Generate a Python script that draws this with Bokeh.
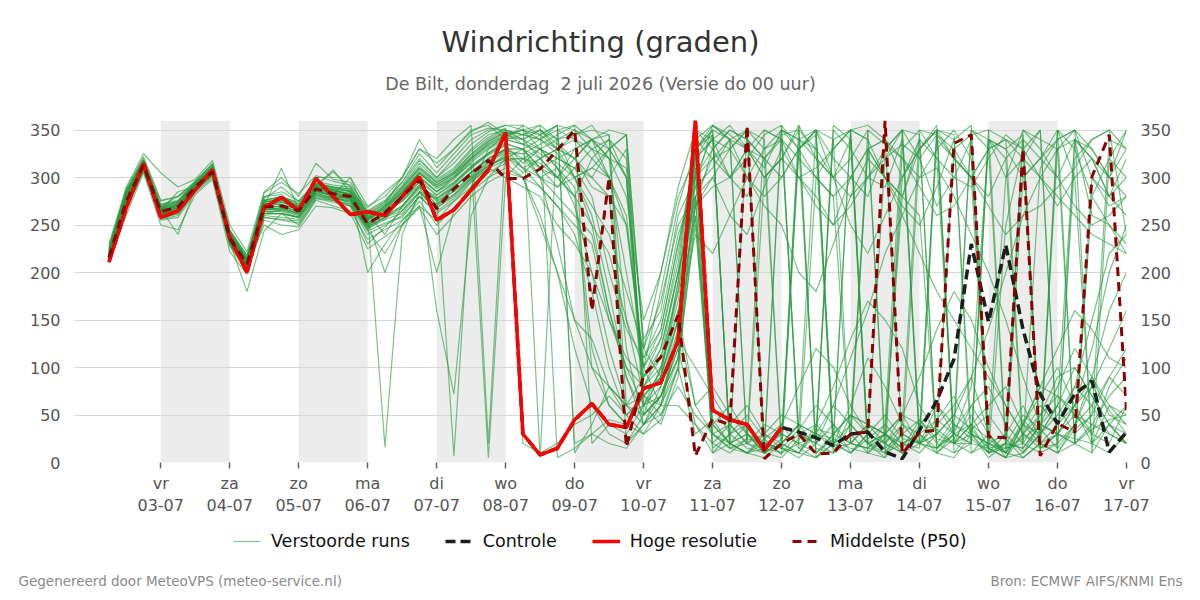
from datetime import datetime, timedelta

from bokeh.plotting import figure
from bokeh.layouts import column
from bokeh.models import (BoxAnnotation, FixedTicker, Label, Legend, LegendItem,
                          LinearAxis, Range1d)
from bokeh.embed import file_html
from bokeh.resources import INLINE

# ---------------------------------------------------------------- data
run_start = datetime(2026, 7, 2, 6)      # first forecast step
step_hours = 6
view_start = datetime(2026, 7, 1, 18)
view_end = datetime(2026, 7, 17, 0)

day_ticks = [datetime(2026, 7, d) for d in range(3, 18)]
day_labels = ["vr\n03-07", "za\n04-07", "zo\n05-07", "ma\n06-07", "di\n07-07",
              "wo\n08-07", "do\n09-07", "vr\n10-07", "za\n11-07", "zo\n12-07",
              "ma\n13-07", "di\n14-07", "wo\n15-07", "do\n16-07", "vr\n17-07"]
shaded_days = [datetime(2026, 7, d) for d in (3, 5, 7, 9, 11, 13, 15)]
y_ticks = [0, 50, 100, 150, 200, 250, 300, 350]

# high resolution run (10 days)
hres = [211, 268, 315, 258, 265, 287, 308, 237, 200, 269, 279, 265, 299, 280, 261, 264,
        260, 280, 301, 255, 266, 287, 308, 347, 30, 8, 15, 45, 62, 40, 37, 78,
        84, 128, 360, 55, 45, 40, 13, 37]

# control run
control = [211, 268, 315, 258, 265, 287, 308, 237, 200, 269, 279, 265, 299, 280, 261, 264,
           260, 280, 301, 255, 266, 287, 308, 347, 30, 8, 15, 45, 62, 40, 37, 78,
           84, 128, 360, 55, 45, 40, 13, 37, 32, 26, 18, 30, 32, 11, 4, 34,
           65, 109, 230, 148, 229, 140, 72, 41, 72, 86, 11, 32]

# ensemble median
p50 = [216, 275, 313, 264, 269, 290, 306, 236, 209, 269, 270, 265, 288, 283, 280, 251,
       263, 280, 297, 267, 288, 304, 318, 299, 299, 309, 329, 350, 160, 300, 16, 92,
       111, 155, 7, 46, 40, 355, 4, 20, 30, 9, 10, 30, 32, 360, 9, 32,
       34, 336, 345, 27, 26, 330, 7, 41, 32, 301, 345, 55]

# perturbed members
ensemble_members = [
    [218, 280, 315, 268, 272, 292, 310, 240, 212, 272, 275, 268, 290, 286, 282, 255, 266,
     285, 305, 290, 300, 320, 335, 345, 340, 350, 335, 320, 300, 330, 345, 60, 80, 150,
     300, 345, 20, 40, 15, 355, 330, 300, 280, 20, 15, 40, 350, 320, 270, 300, 340, 10, 30, 60, 25, 330, 350, 300, 280, 320],
    [212, 270, 310, 258, 262, 286, 302, 230, 205, 262, 262, 258, 282, 278, 275, 246, 258,
     270, 290, 275, 285, 300, 315, 330, 320, 330, 310, 290, 120, 60, 40, 70, 95, 180,
     310, 10, 30, 50, 25, 8, 330, 350, 20, 30, 10, 25, 300, 340, 15, 35, 60, 30, 5, 40, 70, 100, 60, 30, 80, 110],
    [225, 288, 320, 275, 280, 295, 315, 245, 218, 280, 285, 275, 296, 292, 290, 262, 272,
     300, 340, 310, 330, 350, 355, 340, 355, 5, 350, 340, 330, 300, 250, 100, 130, 220,
     330, 350, 340, 20, 300, 320, 355, 10, 25, 350, 340, 300, 280, 260, 20, 45, 350, 330, 15, 20, 310, 340, 350, 10, 320, 300],
    [215, 265, 308, 255, 258, 284, 300, 228, 200, 258, 255, 252, 278, 274, 270, 240, 250,
     260, 280, 262, 275, 295, 310, 300, 290, 280, 250, 230, 200, 150, 100, 60, 70, 120,
     280, 40, 60, 30, 20, 15, 35, 60, 40, 10, 30, 50, 25, 20, 45, 70, 30, 5, 20, 50, 35, 15, 40, 60, 90, 70],
    [220, 278, 312, 262, 268, 290, 305, 235, 210, 266, 268, 262, 286, 280, 278, 250, 262,
     278, 300, 285, 295, 312, 325, 335, 330, 310, 300, 320, 290, 280, 120, 40, 50, 100,
     350, 330, 300, 280, 320, 340, 30, 20, 60, 110, 160, 220, 260, 300, 310, 280, 240, 200, 150, 90, 40, 30, 60, 120, 200, 250],
    [230, 290, 325, 305, 290, 298, 318, 250, 222, 285, 300, 280, 315, 298, 295, 265, 276,
     295, 320, 300, 320, 340, 350, 355, 350, 345, 355, 10, 40, 80, 60, 90, 130, 210,
     340, 355, 345, 330, 300, 320, 350, 5, 20, 40, 330, 300, 270, 250, 290, 340, 355, 30, 10, 300, 320, 350, 20, 280, 250, 230],
    [210, 260, 305, 250, 245, 282, 298, 222, 198, 255, 250, 248, 276, 270, 265, 235, 245,
     255, 275, 250, 268, 285, 300, 310, 300, 290, 270, 240, 180, 100, 50, 30, 60, 140,
     60, 30, 15, 10, 5, 20, 40, 30, 25, 15, 10, 30, 50, 40, 35, 20, 60, 80, 40, 20, 50, 90, 100, 70, 40, 60],
    [222, 284, 318, 272, 276, 294, 312, 242, 215, 276, 280, 272, 292, 290, 286, 258, 270,
     290, 315, 298, 310, 330, 345, 350, 345, 355, 340, 350, 330, 340, 320, 130, 160, 260,
     300, 320, 330, 350, 340, 15, 355, 320, 300, 340, 10, 5, 330, 350, 345, 320, 300, 10, 250, 330, 350, 15, 340, 330, 300, 350],
    [216, 274, 312, 265, 285, 290, 307, 238, 208, 270, 310, 266, 300, 300, 300, 270, 280,
     300, 330, 320, 340, 355, 20, 340, 335, 330, 320, 310, 280, 200, 140, 110, 150, 240,
     290, 355, 340, 300, 270, 250, 200, 180, 230, 280, 320, 300, 260, 220, 180, 150, 120, 90, 60, 30, 60, 40, 80, 150, 220, 240],
    [214, 272, 311, 261, 266, 288, 304, 233, 207, 264, 265, 260, 284, 282, 300, 258, 255,
     280, 298, 160, 72, 260, 300, 320, 330, 300, 280, 260, 240, 160, 100, 80, 100, 160,
     60, 80, 50, 30, 15, 350, 330, 20, 10, 50, 30, 320, 350, 20, 40, 60, 90, 30, 10, 45, 25, 350, 300, 20, 40, 30],
    [219, 279, 314, 267, 240, 289, 306, 237, 211, 268, 270, 264, 288, 284, 281, 252, 264,
     275, 295, 270, 290, 305, 320, 330, 310, 320, 330, 345, 355, 330, 300, 50, 70, 110,
     270, 300, 330, 350, 10, 20, 40, 350, 320, 300, 280, 330, 350, 30, 15, 30, 80, 340, 320, 10, 30, 60, 30, 50, 340, 330],
    [226, 286, 317, 258, 274, 296, 313, 232, 180, 244, 262, 250, 278, 276, 284, 200, 230,
     255, 270, 200, 265, 290, 330, 345, 350, 340, 355, 20, 30, 20, 15, 40, 60, 130,
     320, 20, 40, 60, 30, 20, 10, 40, 80, 130, 170, 150, 120, 60, 30, 20, 20, 15, 5, 40, 80, 120, 160, 140, 110, 100],
    [213, 268, 309, 270, 280, 291, 309, 245, 214, 274, 276, 270, 292, 306, 290, 262, 240,
     270, 290, 280, 7, 290, 310, 325, 325, 300, 230, 150, 100, 60, 40, 30, 45, 100,
     30, 45, 20, 10, 25, 40, 15, 5, 20, 350, 355, 340, 20, 10, 30, 50, 35, 15, 5, 30, 50, 70, 55, 20, 10, 30],
    [217, 276, 313, 263, 268, 290, 306, 236, 209, 280, 282, 268, 290, 285, 276, 248, 262,
     282, 302, 285, 300, 315, 5, 300, 320, 315, 300, 330, 340, 345, 60, 50, 100, 170,
     290, 310, 340, 330, 300, 320, 300, 280, 250, 270, 300, 320, 335, 320, 345, 330, 300, 270, 240, 260, 270, 290, 310, 340, 350, 240],
    [221, 281, 316, 266, 270, 292, 308, 239, 213, 262, 266, 270, 286, 281, 272, 244, 220,
     250, 268, 240, 260, 280, 295, 305, 300, 260, 200, 120, 60, 30, 20, 50, 70, 110,
     250, 30, 40, 20, 15, 10, 30, 20, 355, 340, 20, 30, 15, 45, 25, 20, 40, 60, 80, 40, 20, 10, 35, 50, 90, 120],
    [211, 266, 307, 257, 262, 287, 303, 231, 206, 278, 290, 275, 294, 290, 288, 260, 16,
     240, 285, 278, 292, 310, 325, 340, 345, 350, 340, 345, 350, 345, 20, 40, 80, 140,
     330, 350, 20, 350, 330, 340, 300, 310, 330, 350, 340, 20, 10, 30, 350, 320, 300, 330, 340, 20, 10, 350, 330, 280, 320, 350],
    [224, 285, 318, 271, 275, 294, 311, 243, 216, 271, 272, 266, 289, 287, 283, 256, 268,
     288, 310, 295, 305, 325, 340, 350, 340, 330, 310, 270, 200, 120, 60, 70, 90, 190,
     330, 40, 20, 30, 10, 5, 25, 30, 15, 20, 40, 30, 10, 20, 60, 40, 25, 10, 20, 15, 40, 30, 60, 90, 50, 40],
    [218, 277, 313, 264, 269, 289, 306, 236, 210, 266, 268, 262, 288, 282, 278, 254, 200,
     250, 280, 272, 290, 305, 320, 330, 330, 340, 325, 300, 270, 240, 180, 120, 170, 250,
     280, 300, 260, 240, 290, 330, 300, 270, 250, 300, 330, 300, 280, 340, 320, 300, 290, 320, 345, 330, 300, 270, 300, 320, 280, 260],
    [215, 272, 311, 262, 266, 288, 304, 234, 207, 260, 258, 256, 280, 278, 270, 230, 248,
     265, 285, 268, 282, 300, 313, 320, 320, 300, 310, 280, 320, 340, 300, 90, 110, 200,
     340, 320, 300, 330, 350, 340, 320, 300, 280, 300, 330, 340, 320, 290, 260, 270, 300, 330, 340, 320, 300, 280, 260, 240, 230, 220],
    [223, 283, 317, 269, 274, 293, 310, 241, 214, 284, 295, 283, 302, 296, 292, 268, 285,
     300, 330, 315, 330, 348, 358, 345, 350, 330, 340, 300, 310, 300, 330, 60, 40, 90,
     310, 60, 30, 15, 10, 20, 40, 15, 10, 40, 20, 5, 30, 45, 20, 10, 35, 50, 25, 5, 20, 40, 60, 80, 55, 30],
    [216, 274, 312, 263, 270, 290, 306, 236, 208, 250, 240, 245, 270, 268, 262, 225, 238,
     250, 270, 255, 275, 290, 305, 315, 300, 250, 200, 150, 130, 80, 50, 70, 90, 150,
     270, 330, 350, 340, 320, 300, 330, 350, 20, 30, 330, 340, 300, 330, 355, 10, 20, 340, 300, 320, 350, 10, 20, 300, 270, 280],
    [220, 279, 315, 267, 271, 291, 308, 238, 212, 268, 270, 264, 290, 308, 284, 257, 265,
     285, 305, 288, 300, 318, 332, 342, 340, 320, 300, 280, 100, 80, 60, 40, 70, 130,
     100, 70, 40, 20, 30, 15, 10, 30, 60, 40, 20, 10, 40, 30, 10, 25, 50, 15, 5, 10, 30, 60, 100, 70, 40, 20],
    [212, 268, 308, 256, 260, 286, 302, 229, 204, 266, 266, 260, 286, 282, 278, 250, 262,
     275, 292, 278, 290, 306, 320, 330, 330, 310, 320, 330, 340, 350, 345, 120, 200, 280,
     320, 340, 355, 330, 310, 350, 340, 330, 10, 20, 350, 335, 320, 300, 330, 350, 320, 15, 20, 340, 320, 300, 340, 260, 250, 220],
    [228, 287, 322, 276, 280, 296, 314, 244, 218, 276, 280, 274, 294, 290, 288, 264, 275,
     295, 325, 305, 325, 345, 352, 350, 345, 340, 350, 355, 340, 300, 200, 100, 60, 60,
     40, 20, 10, 25, 350, 340, 30, 40, 20, 10, 30, 20, 40, 350, 320, 20, 40, 25, 10, 40, 80, 70, 50, 30, 20, 60],
    [214, 270, 310, 260, 264, 288, 304, 232, 206, 264, 264, 258, 282, 276, 270, 248, 258,
     268, 288, 272, 286, 302, 316, 326, 310, 290, 270, 250, 230, 150, 110, 90, 120, 200,
     270, 290, 300, 330, 320, 20, 10, 35, 30, 50, 40, 30, 280, 330, 350, 20, 10, 30, 300, 350, 340, 330, 20, 10, 40, 20],
    [219, 276, 314, 265, 270, 290, 307, 237, 210, 270, 274, 268, 290, 286, 282, 256, 270,
     284, 304, 290, 302, 320, 336, 346, 335, 345, 355, 350, 340, 320, 150, 70, 50, 80,
     50, 30, 20, 10, 15, 30, 20, 300, 330, 350, 20, 15, 30, 20, 10, 5, 30, 20, 10, 30, 15, 20, 320, 340, 350, 330],
    [217, 273, 312, 262, 267, 289, 305, 235, 209, 268, 266, 262, 286, 280, 276, 252, 262,
     276, 296, 281, 294, 310, 324, 334, 315, 330, 320, 310, 300, 280, 250, 110, 140, 230,
     320, 350, 15, 25, 20, 30, 340, 350, 300, 320, 350, 10, 20, 30, 45, 30, 350, 340, 330, 345, 15, 30, 25, 20, 60, 50],
    [221, 282, 316, 268, 273, 292, 309, 239, 213, 274, 278, 270, 292, 288, 286, 260, 272,
     290, 312, 296, 308, 328, 342, 352, 20, 10, 20, 40, 50, 70, 50, 60, 90, 160,
     260, 30, 15, 20, 40, 30, 20, 10, 30, 20, 15, 30, 50, 20, 15, 30, 40, 10, 15, 25, 40, 80, 120, 90, 60, 40],
    [215, 271, 311, 261, 265, 288, 304, 233, 207, 262, 262, 258, 284, 278, 274, 246, 256,
     262, 284, 268, 280, 298, 312, 322, 305, 320, 330, 340, 320, 300, 260, 100, 180, 270,
     330, 355, 340, 20, 10, 40, 80, 120, 100, 60, 30, 20, 50, 90, 140, 180, 150, 100, 60, 30, 20, 10, 40, 90, 160, 200],
    [222, 280, 315, 266, 271, 291, 308, 240, 212, 272, 276, 268, 291, 287, 282, 258, 268,
     286, 308, 292, 304, 322, 338, 348, 340, 350, 330, 300, 250, 160, 90, 50, 70, 120,
     40, 10, 20, 30, 10, 25, 330, 350, 340, 20, 40, 30, 20, 30, 350, 345, 10, 20, 30, 10, 40, 30, 20, 35, 45, 50],
    [213, 269, 309, 259, 263, 287, 303, 231, 205, 258, 256, 254, 280, 276, 272, 244, 252,
     258, 280, 264, 278, 296, 310, 318, 320, 310, 290, 310, 330, 320, 280, 150, 200, 290,
     350, 340, 300, 320, 345, 355, 15, 30, 350, 330, 300, 290, 340, 20, 30, 330, 345, 350, 20, 15, 40, 60, 340, 320, 280, 300],
    [224, 284, 318, 270, 275, 293, 311, 242, 215, 276, 280, 272, 293, 289, 285, 262, 274,
     292, 318, 300, 315, 335, 348, 355, 355, 345, 330, 320, 340, 320, 310, 80, 110, 180,
     280, 15, 30, 40, 20, 10, 20, 30, 340, 350, 20, 30, 15, 330, 350, 340, 30, 20, 15, 40, 30, 50, 80, 60, 30, 20],
    [218, 276, 314, 266, 270, 291, 307, 237, 211, 270, 272, 266, 289, 284, 280, 254, 266,
     280, 300, 285, 298, 316, 330, 340, 335, 325, 315, 300, 260, 180, 90, 40, 60, 110,
     330, 345, 20, 10, 30, 50, 40, 30, 20, 60, 110, 80, 40, 20, 30, 50, 90, 140, 200, 260, 300, 330, 340, 320, 300, 280],
    [214, 271, 311, 262, 266, 289, 305, 234, 208, 266, 268, 262, 286, 281, 277, 250, 260,
     270, 292, 276, 290, 305, 318, 328, 325, 335, 345, 355, 20, 40, 30, 60, 100, 190,
     320, 340, 330, 300, 280, 300, 330, 345, 20, 10, 25, 40, 20, 15, 340, 320, 300, 280, 320, 340, 15, 30, 20, 40, 70, 90],
    [220, 280, 316, 267, 272, 292, 309, 239, 212, 270, 274, 268, 291, 286, 283, 256, 268,
     283, 306, 292, 304, 320, 334, 344, 350, 355, 5, 15, 30, 45, 40, 80, 120, 200,
     280, 320, 340, 350, 20, 15, 10, 5, 30, 50, 40, 20, 10, 40, 60, 30, 20, 350, 340, 330, 10, 20, 40, 80, 120, 160],
    [216, 273, 312, 264, 268, 290, 306, 236, 209, 268, 270, 264, 288, 283, 279, 252, 262,
     278, 298, 282, 294, 312, 326, 336, 330, 320, 300, 280, 250, 220, 150, 100, 140, 230,
     300, 330, 350, 340, 320, 345, 350, 330, 300, 250, 220, 260, 300, 330, 350, 20, 30, 10, 20, 350, 330, 300, 270, 250, 260, 280],
    [223, 283, 317, 269, 274, 293, 310, 241, 213, 274, 278, 270, 292, 288, 285, 259, 270,
     288, 310, 294, 306, 324, 338, 348, 345, 340, 330, 320, 340, 330, 300, 70, 60, 100,
     260, 40, 20, 10, 20, 15, 5, 20, 40, 20, 15, 10, 30, 20, 15, 40, 30, 20, 10, 5, 20, 30, 50, 40, 30, 20],
    [213, 268, 309, 258, 263, 287, 303, 231, 206, 262, 262, 258, 283, 279, 275, 248, 258,
     265, 285, 270, 282, 298, 312, 322, 310, 300, 290, 300, 310, 330, 345, 120, 90, 150,
     240, 220, 260, 300, 330, 350, 340, 320, 300, 280, 300, 330, 350, 345, 10, 30, 20, 340, 330, 300, 320, 340, 350, 330, 300, 330],
]


def to_ms(dt):
    return (dt - datetime(1970, 1, 1)).total_seconds() * 1000.0


def step_times(n):
    return [to_ms(run_start + timedelta(hours=step_hours * i)) for i in range(n)]


FONT = "DejaVu Sans"
DAY_MS = 24 * 3600 * 1000.0
ENS_COLOR = "#25993c"
CTL_COLOR = "#1e1e1e"
HRES_COLOR = "#ff0000"
P50_COLOR = "#8b0000"


def blank_panel(height, y_top, y_bottom):
    """Axis-less strip whose data coordinates equal page pixels."""
    f = figure(width=1200, height=height,
               x_range=Range1d(0, 1200), y_range=Range1d(y_bottom, y_top),
               x_axis_type=None, y_axis_type=None,
               output_backend="svg", toolbar_location=None,
               min_border_left=0, min_border_right=0,
               min_border_top=0, min_border_bottom=0)
    f.frame_align = False
    f.outline_line_color = None
    f.grid.visible = False
    return f


# ---------------------------------------------------------------- header
header = blank_panel(100, 0, 100)
header.add_layout(Label(x=600, y=41, text="Windrichting (graden)",
                        text_align="center", text_baseline="middle",
                        text_font=FONT, text_font_size="29px", text_color="#333333"))
header.add_layout(Label(x=600, y=83,
                        text="De Bilt, donderdag\u00a0 2 juli 2026 (Versie do 00 uur)",
                        text_align="center", text_baseline="middle",
                        text_font=FONT, text_font_size="17.5px", text_color="#666666"))

# ---------------------------------------------------------------- main chart
p = figure(width=1200, height=420,
           x_range=Range1d(to_ms(view_start), to_ms(view_end)),
           y_range=Range1d(0, 360),
           output_backend="svg", toolbar_location=None,
           min_border_left=74, min_border_right=74,
           min_border_top=20, min_border_bottom=58)
p.frame_align = False
p.outline_line_color = None

# alternating day bands
for d in shaded_days:
    p.add_layout(BoxAnnotation(left=to_ms(d), right=to_ms(d) + DAY_MS, bottom=0, top=360,
                               fill_color="#ececec", fill_alpha=1.0, line_color=None,
                               level="image"))

p.xgrid.visible = False
p.ygrid.ticker = FixedTicker(ticks=y_ticks)
p.ygrid.grid_line_color = "#d8d8d8"
p.ygrid.grid_line_width = 1

tick_ms = [to_ms(d) for d in day_ticks]
xa = p.xaxis[0]
xa.ticker = FixedTicker(ticks=tick_ms)
xa.major_label_overrides = {t: lab for t, lab in zip(tick_ms, day_labels)}
xa.axis_line_color = None
xa.minor_tick_line_color = None
xa.major_tick_in = 0
xa.major_tick_out = 6
xa.major_tick_line_color = "#666666"
xa.major_tick_line_width = 1.5
xa.major_label_standoff = 5
xa.major_label_text_font = FONT
xa.major_label_text_font_size = "16px"
xa.major_label_text_color = "#555555"


def style_y(ax):
    ax.ticker = FixedTicker(ticks=y_ticks)
    ax.axis_line_color = None
    ax.major_tick_line_color = None
    ax.minor_tick_line_color = None
    ax.major_label_standoff = 8
    ax.major_label_text_font = FONT
    ax.major_label_text_font_size = "16px"
    ax.major_label_text_color = "#555555"


style_y(p.yaxis[0])
right_axis = LinearAxis()
style_y(right_axis)
p.add_layout(right_axis, "right")

p.multi_line(xs=[step_times(len(m)) for m in ensemble_members], ys=ensemble_members,
             line_color=ENS_COLOR, line_alpha=0.6, line_width=1.2)
p.line(step_times(len(control)), control, line_color=CTL_COLOR,
       line_width=3.5, line_dash="10 5")
p.line(step_times(len(hres)), hres, line_color=HRES_COLOR, line_width=3.5)
p.line(step_times(len(p50)), p50, line_color=P50_COLOR, line_width=3, line_dash="9 6")

# ---------------------------------------------------------------- legend + credits
footer = blank_panel(80, 520, 600)
# legend keys: single points placed off the visible strip
off = [-100.0]
ens_k = footer.multi_line(xs=[off], ys=[off], line_color=ENS_COLOR, line_alpha=0.6, line_width=1)
ctl_k = footer.line(x=off, y=off, line_color=CTL_COLOR, line_width=3.5, line_dash="10 5")
hres_k = footer.line(x=off, y=off, line_color=HRES_COLOR, line_width=3.5)
p50_k = footer.line(x=off, y=off, line_color=P50_COLOR, line_width=3, line_dash="9 6")

legend = Legend(items=[LegendItem(label="Verstoorde runs", renderers=[ens_k]),
                       LegendItem(label="Controle", renderers=[ctl_k]),
                       LegendItem(label="Hoge resolutie", renderers=[hres_k]),
                       LegendItem(label="Middelste (P50)", renderers=[p50_k])],
                orientation="horizontal", location=(233, 49),
                glyph_width=28, glyph_height=20, label_standoff=10, spacing=35,
                padding=0, margin=0,
                label_text_font=FONT, label_text_font_size="17.5px",
                label_text_color="#111111",
                border_line_color=None, background_fill_alpha=0)
footer.add_layout(legend, "center")

footer.add_layout(Label(x=18, y=580, text="Gegenereerd door MeteoVPS (meteo-service.nl)",
                        text_align="left", text_baseline="middle",
                        text_font=FONT, text_font_size="13.5px", text_color="#8a8a8a"))
footer.add_layout(Label(x=1182, y=580, text="Bron: ECMWF AIFS/KNMI Ens",
                        text_align="right", text_baseline="middle",
                        text_font=FONT, text_font_size="13.5px", text_color="#8a8a8a"))

layout = column(header, p, footer, spacing=0)
open("out.html", "w").write(file_html(layout, INLINE))
